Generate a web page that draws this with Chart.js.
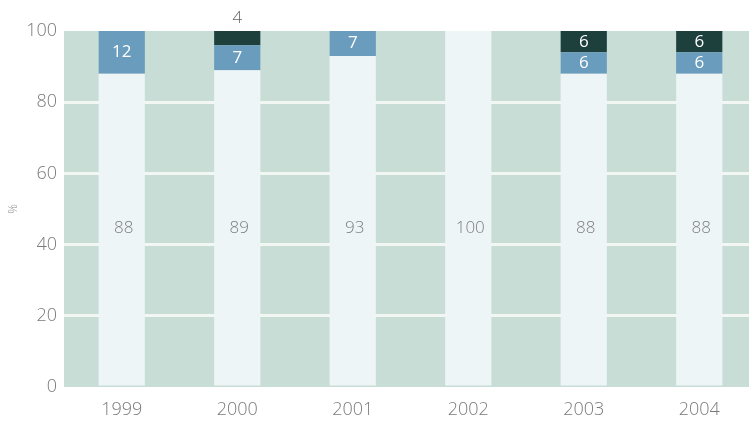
<!DOCTYPE html>
<html><head><meta charset="utf-8">
<script src="https://cdn.jsdelivr.net/npm/chart.js@4"></script>
<style>html,body{margin:0;padding:0;background:#fff;overflow:hidden;width:749px;height:421px}</style>
</head><body>
<canvas id="c" width="757" height="421"></canvas>
<script>
const categories = ['1999','2000','2001','2002','2003','2004'];
const seriesLight = [88, 89, 93, 100, 88, 88];
const seriesMid   = [12, 7, 7, 0, 6, 6];
const seriesDark  = [0, 4, 0, 0, 6, 6];
const yTicks = [0, 20, 40, 60, 80, 100];
const yTitle = '%';

const FONT = '"Open Sans", sans-serif';
const GREY = '#7a7a7a';

const bgPlugin = {
  id: 'bg',
  beforeDraw(chart) {
    const {ctx, chartArea: a} = chart;
    ctx.save();
    ctx.fillStyle = '#c9ddd7';
    ctx.fillRect(a.left, a.top, a.right - a.left, a.bottom - a.top);
    ctx.restore();
  }
};

const labelPlugin = {
  id: 'vals',
  afterDatasetsDraw(chart) {
    const ctx = chart.ctx;
    const yScale = chart.scales.y;
    ctx.save();
    ctx.textAlign = 'center';
    ctx.textBaseline = 'middle';
    chart.data.datasets.forEach((ds, di) => {
      const meta = chart.getDatasetMeta(di);
      meta.data.forEach((el, i) => {
        const v = ds.data[i];
        if (!v) return;
        ctx.font = (ds.labelWeight || 300) + ' 17px ' + FONT;
        if (di === 0) {
          ctx.fillStyle = ds.labelColor;
          ctx.fillText(String(v), el.x + 2, yScale.getPixelForValue(44.6));
        } else if (v < 5) {
          ctx.font = '300 17px ' + FONT;
          ctx.fillStyle = '#666666';
          ctx.fillText(String(v), el.x, Math.min(el.y, el.base) - 13);
        } else {
          ctx.fillStyle = ds.labelColor;
          ctx.fillText(String(v), el.x, (el.y + el.base) / 2);
        }
      });
    });
    ctx.restore();
  }
};

new Chart(document.getElementById('c'), {
  type: 'bar',
  data: {
    labels: categories,
    datasets: [
      {data: seriesLight, backgroundColor: '#eef5f7', labelColor: '#7e7e7e', labelWeight: 300},
      {data: seriesMid, backgroundColor: '#6a9cbd', labelColor: '#ffffff', labelWeight: 400},
      {data: seriesDark, backgroundColor: '#1e403d', labelColor: '#ffffff', labelWeight: 400}
    ]
  },
  options: {
    responsive: false,
    devicePixelRatio: 1,
    animation: false,
    barPercentage: 0.4,
    categoryPercentage: 1,
    layout: {padding: {top: 31, right: 0, bottom: 0, left: 0}},
    plugins: {legend: {display: false}, tooltip: {enabled: false}},
    scales: {
      x: {
        stacked: true,
        grid: {display: false, drawTicks: false},
        border: {display: false},
        ticks: {color: GREY, font: {family: FONT, size: 18, weight: 300}, padding: 12},
        afterFit(s) { s.height = 34; }
      },
      y: {
        stacked: true,
        min: 0, max: 100,
        afterBuildTicks(s) { s.ticks = yTicks.map(v => ({value: v})); },
        grid: {
          drawTicks: false,
          lineWidth: 3,
          color: c => (c.tick && (c.tick.value === 0 || c.tick.value === 100)) ? 'rgba(0,0,0,0)' : '#f2f7f4'
        },
        border: {display: false},
        ticks: {color: GREY, font: {family: FONT, size: 18, weight: 300}, padding: 7},
        title: {display: true, text: yTitle, color: '#8a8a8a', font: {family: FONT, size: 12, weight: 300}, padding: 6},
        afterFit(s) { s.width = 64; }
      }
    }
  },
  plugins: [bgPlugin, labelPlugin]
});
</script>
</body></html>
